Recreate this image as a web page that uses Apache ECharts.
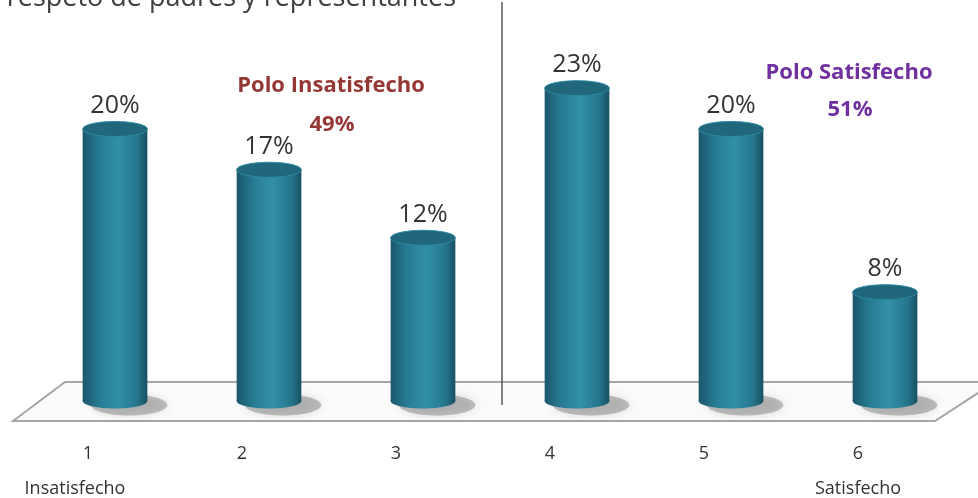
<!DOCTYPE html>
<html>
<head>
<meta charset="utf-8">
<script src="https://cdn.jsdelivr.net/npm/echarts@6/dist/echarts.min.js"></script>
<style>html,body{margin:0;padding:0;background:#fff}#c{width:978px;height:498px}</style>
</head>
<body>
<div id="c"></div>
<script>
const categories = ['1', '2', '3', '4', '5', '6'];
const subLabels = ['Insatisfecho', '', '', '', '', 'Satisfecho'];
const values = [20, 17, 12, 23, 20, 8];
const poloInsatisfecho = '49%';
const poloSatisfecho = '51%';

const FONT = '"Open Sans", "Noto Sans", sans-serif';
const chart = echarts.init(document.getElementById('c'), null, {renderer: 'canvas'});

const bodyGrad = new echarts.graphic.LinearGradient(0, 0, 1, 0, [
  {offset: 0, color: '#1a566b'},
  {offset: 0.25, color: '#277b93'},
  {offset: 0.55, color: '#3290a9'},
  {offset: 0.85, color: '#25758c'},
  {offset: 1, color: '#194f62'}
]);

function renderCyl(params, api) {
  const top = api.coord([api.value(0), api.value(1)]);
  const base = api.coord([api.value(0), 0]);
  const w = api.size([1, 0])[0] * 0.42;
  const rx = w / 2, ry = 7.5;
  const cx = top[0];
  return {
    type: 'group',
    children: [
      {type: 'ellipse', shape: {cx: cx + 14, cy: base[1] + 4, rx: rx + 6, ry: ry + 3},
       style: {fill: 'rgba(90,90,90,0.35)', shadowBlur: 10, shadowColor: 'rgba(0,0,0,0.35)'}},
      {type: 'ellipse', shape: {cx: cx, cy: base[1], rx: rx, ry: ry}, style: {fill: bodyGrad}},
      {type: 'rect', shape: {x: cx - rx, y: top[1], width: w, height: base[1] - top[1]}, style: {fill: bodyGrad}},
      {type: 'ellipse', shape: {cx: cx, cy: top[1], rx: rx, ry: ry},
       style: {fill: '#21677c', stroke: '#2c8aa3', lineWidth: 1}},
      {type: 'text', x: cx, y: top[1] - 23,
       style: {text: api.value(1) + '%', align: 'center', verticalAlign: 'middle',
               fill: '#333', font: '25px ' + FONT}}
    ]
  };
}

const option = {
  animation: false,
  backgroundColor: '#fff',
  grid: [
    {left: 38, right: 16, top: 61, bottom: 97},
    {left: 11, right: 43, top: 61, bottom: 97}
  ],
  xAxis: [
    {type: 'category', data: categories, gridIndex: 0,
     axisLine: {show: false}, axisTick: {show: false}, axisLabel: {show: false}},
    {type: 'category', data: categories, gridIndex: 1,
     axisLine: {show: false}, axisTick: {show: false},
     axisLabel: {
       interval: 0, hideOverlap: false,
       margin: 27, fontFamily: FONT, fontSize: 18, color: '#333', lineHeight: 54,
       formatter: function (v, i) {
         const s = subLabels[i];
         if (s === 'Insatisfecho') return v + '\n{l|' + s + '}';
         return v + '\n{c|' + (s || ' ') + '}';
       },
       rich: {
         l: {fontFamily: FONT, fontSize: 18, color: '#333', lineHeight: 16, padding: [0, 26, 0, 0]},
         c: {fontFamily: FONT, fontSize: 18, color: '#333', lineHeight: 16}
       }
     }}
  ],
  yAxis: [
    {type: 'value', min: 0, max: 25, gridIndex: 0, show: false},
    {type: 'value', min: 0, max: 25, gridIndex: 1, show: false}
  ],
  graphic: [
    {type: 'polygon', z: 0,
     shape: {points: [[13, 421], [65, 382], [995, 382], [935, 421]]},
     style: {fill: '#fbfbfb', stroke: '#a6a6a6', lineWidth: 2}},
    {type: 'line', z: 100,
     shape: {x1: 502, y1: 2, x2: 502, y2: 405},
     style: {stroke: '#595959', lineWidth: 1.5}},
    {type: 'text', z: 100, x: 456, y: 12,
     style: {text: 'respeto de padres y representantes', align: 'right', verticalAlign: 'bottom',
             fill: '#404040', font: '27px ' + FONT}},
    {type: 'text', z: 100, x: 331, y: 86,
     style: {text: 'Polo Insatisfecho', align: 'center', verticalAlign: 'middle',
             fill: '#953735', font: 'bold 22px ' + FONT}},
    {type: 'text', z: 100, x: 332, y: 125,
     style: {text: poloInsatisfecho, align: 'center', verticalAlign: 'middle',
             fill: '#953735', font: 'bold 22px ' + FONT}},
    {type: 'text', z: 100, x: 849, y: 73,
     style: {text: 'Polo Satisfecho', align: 'center', verticalAlign: 'middle',
             fill: '#7030a0', font: 'bold 22px ' + FONT}},
    {type: 'text', z: 100, x: 850, y: 110,
     style: {text: poloSatisfecho, align: 'center', verticalAlign: 'middle',
             fill: '#7030a0', font: 'bold 22px ' + FONT}}
  ],
  series: [{
    type: 'custom',
    xAxisIndex: 0, yAxisIndex: 0,
    z: 5,
    renderItem: renderCyl,
    encode: {x: 0, y: 1},
    data: values.map((v, i) => [i, v])
  }]
};
chart.setOption(option);
</script>
</body>
</html>
